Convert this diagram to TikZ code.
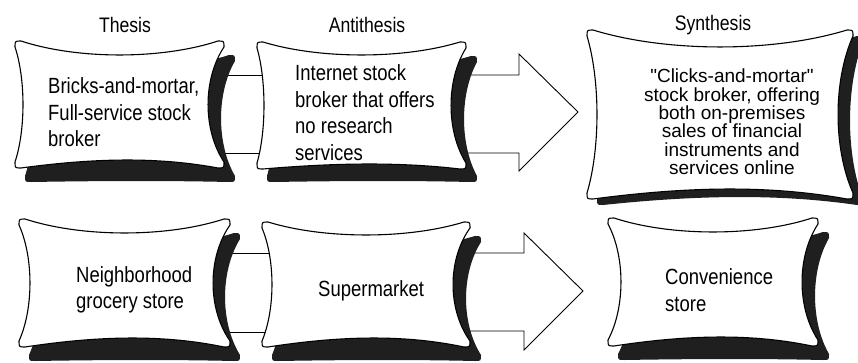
\documentclass[tikz,border=0pt]{standalone}
\usepackage{fontspec}
\setmainfont{Liberation Sans}[FakeStretch=0.84]
\newfontfamily\widefont{Liberation Sans}
\usetikzlibrary{calc}

% a b c d (corners), st sr sb sl (inward sags)
\newcommand\pillowpath[8]{%
 ({(#1)+6},{(#2)})
 .. controls ({(#1)+0.3*((#3)-(#1))},{(#2)+1.33*(#5)}) and ({(#3)-0.3*((#3)-(#1))},{(#2)+1.33*(#5)}) .. ({(#3)-6},{(#2)})
 .. controls ({(#3)},{(#2)}) .. ({(#3)},{(#2)+6})
 .. controls ({(#3)-1.33*(#6)},{(#2)+0.3*((#4)-(#2))}) and ({(#3)-1.33*(#6)},{(#4)-0.3*((#4)-(#2))}) .. ({(#3)},{(#4)-6})
 .. controls ({(#3)},{(#4)}) .. ({(#3)-6},{(#4)})
 .. controls ({(#3)-0.3*((#3)-(#1))},{(#4)-1.33*(#7)}) and ({(#1)+0.4*((#3)-(#1))},{(#4)-1.33*(#7)}) .. ({(#1)+6},{(#4)})
 .. controls ({(#1)},{(#4)}) .. ({(#1)},{(#4)-6})
 .. controls ({(#1)+1.33*(#8)},{(#4)-0.3*((#4)-(#2))}) and ({(#1)+1.33*(#8)},{(#2)+0.3*((#4)-(#2))}) .. ({(#1)},{(#2)+6})
 .. controls ({(#1)},{(#2)}) .. ({(#1)+6},{(#2)}) -- cycle}

\begin{document}
\begin{tikzpicture}[x=1pt,y=-1pt,
  frame/.style={inner sep=0pt, outer sep=0pt, draw=none},
  boxline/.style={draw=black, line width=1.1pt, fill=white, line join=round},
  shadowfill/.style={fill=black!88},
  shaft/.style={draw=black, line width=0.9pt, fill=white, line join=miter},
  headfont/.style={font=\fontsize{21}{25}\selectfont, inner sep=0pt},
  bodyfont/.style={font=\fontsize{22}{26.5}\selectfont, inner sep=0pt, align=left},
  synthfont/.style={font=\widefont\fontsize{19}{18.4}\selectfont, inner sep=0pt, align=center}]

\useasboundingbox (0,0) rectangle (858,362);

% box frames (invisible, for naming)
\node[frame, minimum width=209, minimum height=127] (thesis) at (119.5,104.5) {};
\node[frame, minimum width=209, minimum height=126] (anti)   at (361.5,105) {};
\node[frame, minimum width=266, minimum height=169] (synth)  at (720,114.5) {};
\node[frame, minimum width=211, minimum height=128] (neigh)  at (124.5,283) {};
\node[frame, minimum width=208, minimum height=125] (super)  at (366,284.5) {};
\node[frame, minimum width=210, minimum height=128] (conv)   at (713,282) {};

% connectors between thesis and antithesis
\draw[shaft] ($(thesis.east)+(-20,-29.5)$) rectangle ($(anti.west)+(20,48)$);
\draw[shaft] ($(neigh.east)+(-20,-30)$) rectangle ($(super.west)+(20,47.5)$);

% block arrows to synthesis
\draw[shaft] ($(anti.east)+(-26,-30)$) -- ($(anti.east)+(53,-30)$) -- ($(anti.east)+(53,-51)$)
  -- ($(synth.west)+(-9,-2.5)$) -- ($(anti.east)+(53,66)$) -- ($(anti.east)+(53,48)$)
  -- ($(anti.east)+(-26,48)$) -- cycle;
\draw[shaft] ($(super.east)+(-26,-31.5)$) -- ($(super.east)+(54,-31.5)$) -- ($(super.east)+(54,-51.5)$)
  -- ($(conv.west)+(-25,9)$) -- ($(super.east)+(54,65.5)$) -- ($(super.east)+(54,46.5)$)
  -- ($(super.east)+(-26,46.5)$) -- cycle;

% pillows: shadow then box
\fill[shadowfill] \pillowpath{25}{55}{235}{182}{14}{14}{1}{8};
\draw[boxline]    \pillowpath{15}{41}{224}{168}{14}{16}{8}{8};

\fill[shadowfill] \pillowpath{267}{56}{477}{182}{13}{13}{1}{7};
\draw[boxline]    \pillowpath{257}{42}{466}{169}{13}{15}{5}{7};

\fill[shadowfill] \pillowpath{597}{36}{863}{205}{17}{13}{8}{10};
\draw[boxline]    \pillowpath{587}{30}{853}{199}{17}{15}{10}{10};

\fill[shadowfill] \pillowpath{29}{233}{240}{361}{14}{15}{1}{11};
\draw[boxline]    \pillowpath{19}{219}{230}{347}{14}{17}{9}{11};

\fill[shadowfill] \pillowpath{272}{236}{481}{361}{13}{15}{1}{10};
\draw[boxline]    \pillowpath{262}{222}{470}{347}{13}{17}{9}{10};

\fill[shadowfill] \pillowpath{618}{232}{829}{360}{14}{14}{1}{13};
\draw[boxline]    \pillowpath{608}{218}{818}{346}{14}{16}{9}{13};

% headings
\node[headfont, anchor=base] (thlab)   at (125,32) {Thesis};
\node[headfont, anchor=base] (antilab) at (367,32) {Antithesis};
\node[headfont, anchor=base] (synlab)  at (713,30) {Synthesis};

% box texts
\node[bodyfont, anchor=west] (thtxt)   at (48,112.5)  {Bricks-and-mortar,\\Full-service stock\\broker};
\node[bodyfont, anchor=west] (antitxt) at (295,112.5) {Internet stock\\broker that offers\\no research\\services};
\node[synthfont] (syntxt) at (732,122) {"Clicks-and-mortar"\\stock broker, offering\\both on-premises\\sales of financial\\instruments and\\services online};
\node[bodyfont, anchor=west] (neightxt) at (76,290)  {Neighborhood\\grocery store};
\node[bodyfont, anchor=west] (suptxt)   at (318,291) {Supermarket};
\node[bodyfont, anchor=west] (convtxt)  at (665,290) {Convenience\\store};
\end{tikzpicture}
\end{document}
